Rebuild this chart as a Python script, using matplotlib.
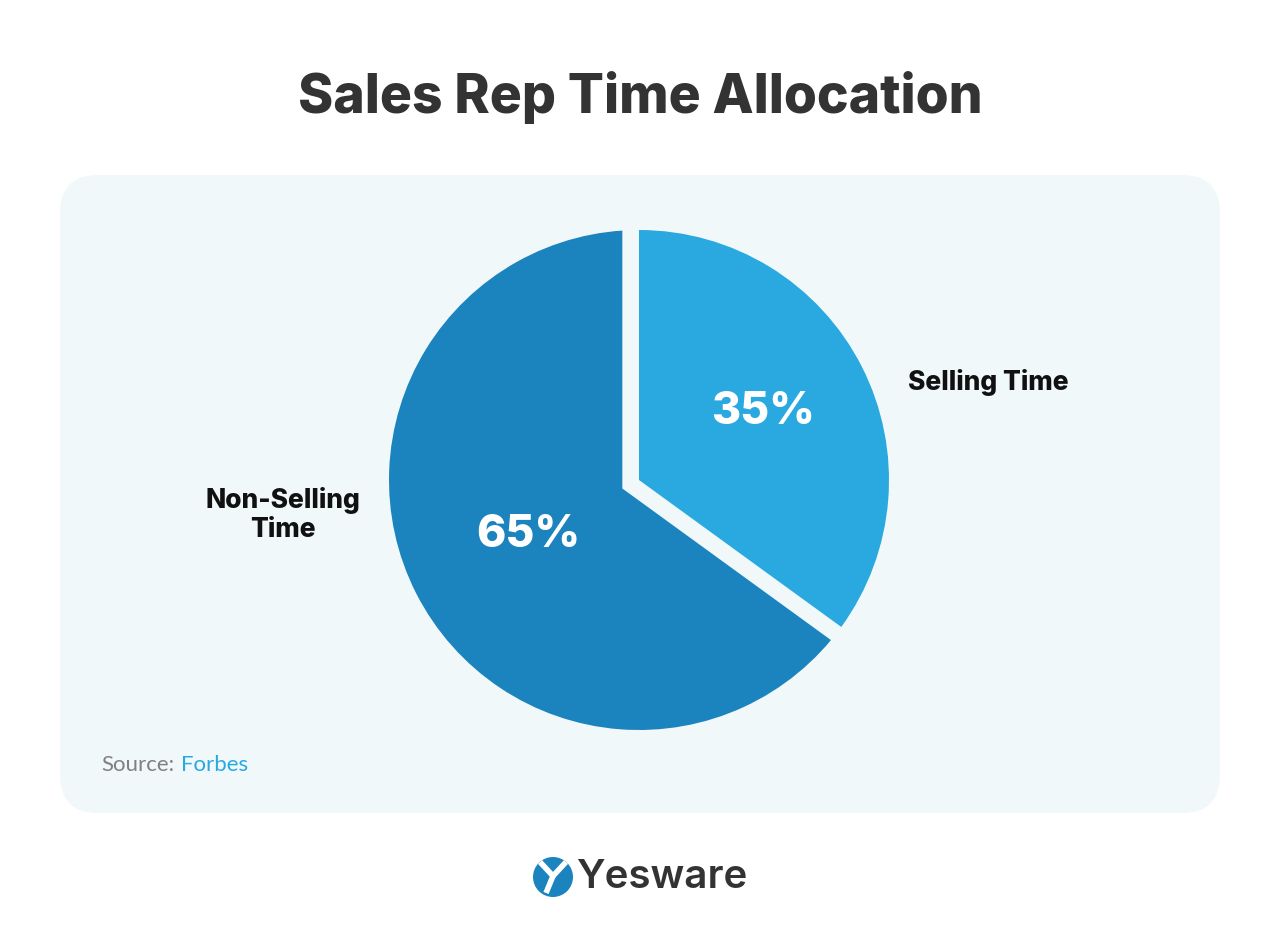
import matplotlib.pyplot as plt
from matplotlib.patches import FancyBboxPatch, Circle

# data
categories = ['Selling Time', 'Non-Selling Time']
shares = [35, 65]
colors = ['#2aa9e0', '#1b83bd']

bg_panel = '#f0f8fa'
title = 'Sales Rep Time Allocation'

plt.rcParams['font.family'] = ['Inter', 'DejaVu Sans']

fig = plt.figure(figsize=(12.8, 9.42), dpi=100)
fig.patch.set_facecolor('white')

# background canvas in pixel coordinates
bg = fig.add_axes([0, 0, 1, 1])
bg.set_xlim(0, 1280)
bg.set_ylim(942, 0)
bg.axis('off')

panel = FancyBboxPatch((60, 175), 1160, 638, boxstyle='round,pad=0,rounding_size=38',
                       facecolor=bg_panel, edgecolor='none')
bg.add_patch(panel)

bg.text(640, 97, title, ha='center', va='center', fontsize=38.5, fontweight='heavy', color='#333333')

bg.text(101, 765, 'Source:', ha='left', va='center', fontsize=16, color='#808080',
        family=['Lato', 'DejaVu Sans'])
bg.text(181, 765, 'Forbes', ha='left', va='center', fontsize=16, color='#2aa9e0',
        family=['Lato', 'DejaVu Sans'])

# logo
bg.add_patch(Circle((553, 877), 20, facecolor='#1b83bd', edgecolor='none'))
bg.plot([540, 553, 566], [862, 876, 862], color='white', lw=4, solid_capstyle='butt')
bg.plot([553, 546], [876, 893], color='white', lw=4, solid_capstyle='butt')
bg.text(576, 878, 'Yesware', ha='left', va='center', fontsize=29, fontweight='semibold',
        color='#333333')

# pie, centre at (639, 480) px with radius 250 px
ax = fig.add_axes([389 / 1280, (942 - 730) / 942, 500 / 1280, 500 / 942])
wedges, _ = ax.pie(shares, colors=colors, startangle=90, counterclock=False,
                   wedgeprops=dict(linewidth=0))
# cut the gap out of the dark slice: light slice with a thick background-coloured stroke
gap, _ = ax.pie(shares, colors=colors, startangle=90, counterclock=False,
                wedgeprops=dict(linewidth=24, edgecolor=bg_panel, joinstyle='miter'))
gap[1].remove()
top, _ = ax.pie(shares, colors=colors, startangle=90, counterclock=False,
                wedgeprops=dict(linewidth=0))
top[1].remove()
ax.set_xlim(-1, 1)
ax.set_ylim(-1, 1)
ax.set_aspect('auto')

ax.text(0.496, 0.272, f'{shares[0]}%', ha='center', va='center', fontsize=32,
        fontweight='heavy', color='white')
ax.text(-0.444, -0.22, f'{shares[1]}%', ha='center', va='center', fontsize=32,
        fontweight='heavy', color='white')

ax.text(1.076, 0.388, categories[0], ha='left', va='center', fontsize=19,
        fontweight='heavy', color='#111111', clip_on=False)
ax.text(-1.424, -0.14, 'Non-Selling\nTime', ha='center', va='center', fontsize=19,
        fontweight='heavy', color='#111111', linespacing=1.15, clip_on=False)

fig.savefig('out.png', dpi=100, facecolor='white')
